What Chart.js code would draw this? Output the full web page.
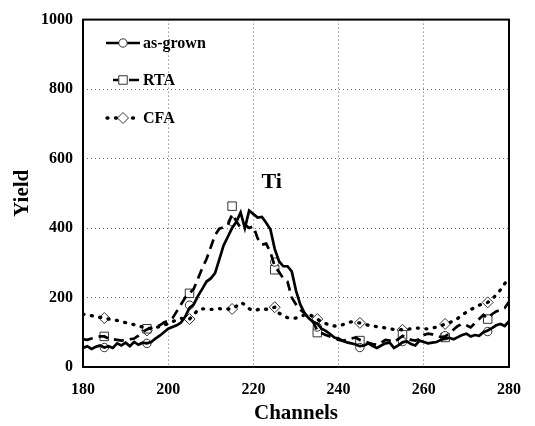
<!DOCTYPE html>
<html>
<head>
<meta charset="utf-8">
<script src="https://cdn.jsdelivr.net/npm/chart.js@4/dist/chart.umd.min.js"></script>
<style>
  html, body { margin: 0; padding: 0; background: #fff; }
  #wrap { width: 535px; height: 426px; }
</style>
</head>
<body>
<div id="wrap"><canvas id="rbs"></canvas></div>
<script>
// Channels 180..280, one value per channel
const channelStart = 180;
const asGrown = [55, 60, 52, 58, 62, 56, 60, 55, 68, 62, 70, 60, 72, 64, 70, 68, 72, 82, 90, 100,
  110, 115, 120, 128, 145, 170, 180, 205, 225, 246, 255, 270, 310, 350, 375, 400, 418, 445, 400, 450,
  440, 430, 432, 415, 396, 340, 305, 290, 290, 275, 220, 180, 155, 140, 130, 125, 110, 104, 95, 85,
  82, 75, 71, 68, 65, 60, 62, 68, 60, 55, 62, 68, 70, 55, 62, 71, 74, 66, 62, 76,
  72, 68, 70, 72, 78, 82, 84, 80, 86, 92, 96, 88, 92, 90, 100, 105, 112, 120, 124, 118, 132];
const rta = [80, 78, 82, 85, 88, 88, 82, 80, 78, 76, 78, 80, 82, 90, 100, 108, 112, 116, 120, 128,
  133, 140, 160, 180, 200, 212, 225, 255, 285, 311, 345, 380, 398, 402, 408, 440, 420, 400, 410, 400,
  405, 370, 352, 355, 330, 290, 274, 255, 246, 200, 180, 165, 155, 140, 130, 105, 98, 92, 88, 84,
  78, 76, 78, 82, 85, 78, 74, 70, 66, 64, 70, 78, 76, 72, 80, 90, 84, 78, 76, 80,
  92, 96, 94, 90, 86, 88, 96, 108, 118, 124, 120, 114, 126, 138, 150, 140, 152, 160, 165, 170, 188];
const cfa = [152, 150, 148, 145, 143, 141, 138, 136, 134, 130, 128, 125, 122, 118, 115, 110, 112, 114, 116, 120,
  125, 130, 136, 140, 138, 138, 150, 165, 167, 168, 166, 166, 168, 166, 167, 167, 175, 185, 180, 168,
  162, 165, 168, 166, 168, 172, 155, 148, 142, 140, 141, 145, 150, 152, 145, 138, 130, 125, 120, 118,
  118, 122, 128, 130, 128, 127, 124, 120, 118, 116, 115, 112, 110, 108, 108, 107, 108, 110, 112, 112,
  110, 110, 112, 115, 118, 124, 128, 132, 140, 150, 158, 165, 172, 178, 182, 186, 195, 208, 222, 240, 258];

// marker positions (every 10 channels)
const markChannels = [185, 195, 205, 215, 225, 235, 245, 255, 265, 275];
const asGrownMarks = [56, 68, 178, 418, 302, 115, 56, 73, 90, 102];
const rtaMarks = [88, 110, 212, 463, 280, 99, 76, 93, 85, 138];
const cfaMarks = [141, 105, 138, 167, 172, 138, 127, 107, 124, 186];

const xTicks = [180, 200, 220, 240, 260, 280];
const yTicks = [0, 200, 400, 600, 800, 1000];
const seriesNames = ["as-grown", "RTA", "CFA"];

const serif = "'Liberation Serif', 'Times New Roman', serif";

function toXY(arr) {
  return arr.map((v, i) => ({ x: channelStart + i, y: v }));
}
function marksXY(arr) {
  return arr.map((v, i) => ({ x: markChannels[i], y: v }));
}

const lineStyles = [
  { dash: [], width: 2.7, cap: "butt", point: "circle", r: 4.2 },
  { dash: [10, 6], width: 2.7, cap: "butt", point: "rect", r: 6 },
  { dash: [1, 7.5], width: 3.3, cap: "round", point: "rectRot", r: 5.5 }
];

function drawMarker(ctx, style, x, y, r) {
  ctx.save();
  ctx.setLineDash([]);
  ctx.fillStyle = "#fff";
  ctx.strokeStyle = "#333";
  ctx.lineWidth = 1;
  ctx.beginPath();
  if (style === "circle") {
    ctx.arc(x, y, r, 0, Math.PI * 2);
  } else if (style === "rect") {
    const s = r * Math.SQRT1_2;
    ctx.rect(x - s, y - s, 2 * s, 2 * s);
  } else {
    ctx.moveTo(x, y - r); ctx.lineTo(x + r, y); ctx.lineTo(x, y + r); ctx.lineTo(x - r, y); ctx.closePath();
  }
  ctx.fill();
  ctx.stroke();
  ctx.restore();
}

// frame, legend and the "Ti" label
const decorPlugin = {
  id: "decor",
  afterDraw(chart) {
    const ctx = chart.ctx;
    const a = chart.chartArea;
    ctx.save();
    ctx.strokeStyle = "#000";
    ctx.lineWidth = 2;
    ctx.strokeRect(a.left, a.top, a.right - a.left, a.bottom - a.top);

    const rows = [43, 80, 118];
    const lineFrom = [106, 113, 107];
    rows.forEach((y, i) => {
      const st = lineStyles[i];
      ctx.save();
      ctx.strokeStyle = "#000";
      ctx.lineWidth = st.width;
      ctx.lineCap = st.cap;
      ctx.setLineDash(st.dash);
      ctx.beginPath();
      ctx.moveTo(lineFrom[i], y);
      ctx.lineTo(140, y);
      ctx.stroke();
      ctx.restore();
      drawMarker(ctx, st.point, 123, y, st.r);
      ctx.fillStyle = "#000";
      ctx.font = "bold 16px " + serif;
      ctx.textBaseline = "middle";
      ctx.textAlign = "left";
      ctx.fillText(seriesNames[i], 143, y + 1);
    });

    ctx.font = "bold 22px " + serif;
    ctx.textAlign = "center";
    ctx.textBaseline = "middle";
    ctx.fillText("Ti", chart.scales.x.getPixelForValue(224.3), chart.scales.y.getPixelForValue(532));
    ctx.restore();
  }
};

const lineSets = [asGrown, rta, cfa].map((arr, i) => ({
  label: seriesNames[i],
  data: toXY(arr),
  borderColor: "#000",
  borderWidth: lineStyles[i].width,
  borderDash: lineStyles[i].dash,
  borderCapStyle: lineStyles[i].cap,
  pointRadius: 0,
  tension: 0,
  fill: false
}));

const markSets = [asGrownMarks, rtaMarks, cfaMarks].map((arr, i) => ({
  label: seriesNames[i] + " marks",
  data: marksXY(arr),
  showLine: false,
  pointStyle: lineStyles[i].point,
  pointRadius: lineStyles[i].r,
  pointBackgroundColor: "#fff",
  pointBorderColor: "#333",
  pointBorderWidth: 1
}));

new Chart(document.getElementById("rbs").getContext("2d"), {
  type: "line",
  data: { datasets: lineSets.concat(markSets) },
  plugins: [decorPlugin],
  options: {
    responsive: true,
    maintainAspectRatio: false,
    animation: false,
    layout: { padding: { top: 13, right: 26, left: 0, bottom: 0 } },
    plugins: { legend: { display: false }, tooltip: { enabled: false } },
    scales: {
      x: {
        type: "linear",
        min: 180,
        max: 280,
        afterBuildTicks: (s) => { s.ticks = xTicks.map(v => ({ value: v })); },
        afterFit: (s) => { s.height = 59; },
        grid: { color: "#666", lineWidth: 1, drawTicks: false },
        border: { display: false, dash: [1, 3] },
        ticks: { color: "#000", padding: 13, callback: (v) => String(v), font: { family: serif, size: 16, weight: "bold" } },
        title: {
          display: true,
          text: "Channels",
          color: "#000",
          padding: { top: 0, bottom: 0 },
          font: { family: serif, size: 21, weight: "bold" }
        }
      },
      y: {
        min: 0,
        max: 1000,
        afterBuildTicks: (s) => { s.ticks = yTicks.map(v => ({ value: v })); },
        afterFit: (s) => { s.width = 83; },
        grid: { color: "#666", lineWidth: 1, drawTicks: false },
        border: { display: false, dash: [1, 3] },
        ticks: { color: "#000", padding: 10, callback: (v) => String(v), font: { family: serif, size: 16, weight: "bold" } },
        title: {
          display: true,
          text: "Yield",
          color: "#000",
          padding: { top: 10, bottom: 0 },
          font: { family: serif, size: 21, weight: "bold" }
        }
      }
    }
  }
});
</script>
</body>
</html>
